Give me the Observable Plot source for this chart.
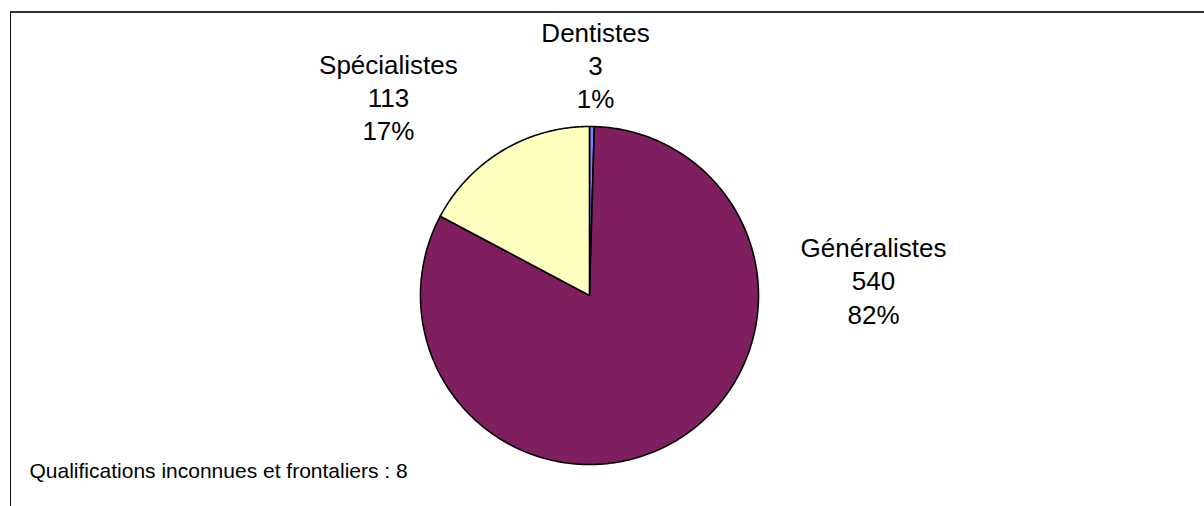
<!DOCTYPE html>
<html>
<head>
<meta charset="utf-8">
<script src="https://cdn.jsdelivr.net/npm/d3@7"></script>
<script src="https://cdn.jsdelivr.net/npm/@observablehq/plot@0.6"></script>
<style>
  html, body { margin: 0; padding: 0; background: #fff; overflow: hidden; }
  #wrap { position: relative; width: 1204px; height: 506px; }
  #frame { position: absolute; left: 10px; top: 11px; width: 1300px; height: 600px;
           border-top: 2px solid #333; border-left: 1px solid #111; pointer-events: none; }
  svg { display: block; }
</style>
</head>
<body>
<div id="wrap"><div id="frame"></div></div>
<script>
// ---- data ----
const categories = ["Dentistes", "Généralistes", "Spécialistes"];
const values = [3, 540, 113];
const percentLabels = ["1%", "82%", "17%"];
const colors = ["#8080FF", "#7F1F5F", "#FFFFC0"];
const note = "Qualifications inconnues et frontaliers : 8";

// ---- layout (label placement around the pie, in radius units) ----
const labelAngles = [1.5, 86.8, -45.3];   // degrees clockwise from 12 o'clock
const labelRadii = [1.367, 1.683, 1.674];

const W = 1204, H = 506, R = 169, CX = 589, CY = 295;

const total = d3.sum(values);
const slicePoints = [];
let acc = 0;
categories.forEach((c, i) => {
  const a0 = acc / total * 2 * Math.PI;
  acc += values[i];
  const a1 = acc / total * 2 * Math.PI;
  const n = Math.max(2, Math.ceil((a1 - a0) / (Math.PI / 360)));
  slicePoints.push({cat: c, x: 0, y: 0});
  for (let k = 0; k <= n; k++) {
    const a = a0 + (a1 - a0) * k / n;
    slicePoints.push({cat: c, x: Math.sin(a), y: Math.cos(a)});
  }
  slicePoints.push({cat: c, x: 0, y: 0});
});

const labels = categories.map((c, i) => {
  const a = labelAngles[i] * Math.PI / 180;
  return {
    cat: c,
    text: `${c}\n${values[i]}\n${percentLabels[i]}`,
    x: labelRadii[i] * Math.sin(a),
    y: labelRadii[i] * Math.cos(a)
  };
});

const chart = Plot.plot({
  width: W,
  height: H,
  margin: 0,
  style: {fontFamily: "Arial, 'Liberation Sans', sans-serif", background: "transparent", color: "#000"},
  x: {domain: [-CX / R, (W - CX) / R], axis: null},
  y: {domain: [-(H - CY) / R, CY / R], axis: null},
  color: {domain: categories, range: colors},
  marks: [
    Plot.line(slicePoints, {x: "x", y: "y", z: "cat", fill: "cat", stroke: "#000", strokeWidth: 1.6, strokeLinejoin: "miter"}),
    Plot.text(labels, {x: "x", y: "y", text: "text", fontSize: 26, lineHeight: 1.28, textAnchor: "middle", lineAnchor: "middle", fill: "#000"}),
    Plot.text([note], {text: d => d, frameAnchor: "bottom-left", dx: 29, dy: -35.5, textAnchor: "start", lineAnchor: "middle", fontSize: 21, fill: "#000"})
  ]
});
document.getElementById("wrap").insertBefore(chart, document.getElementById("frame"));
</script>
</body>
</html>
